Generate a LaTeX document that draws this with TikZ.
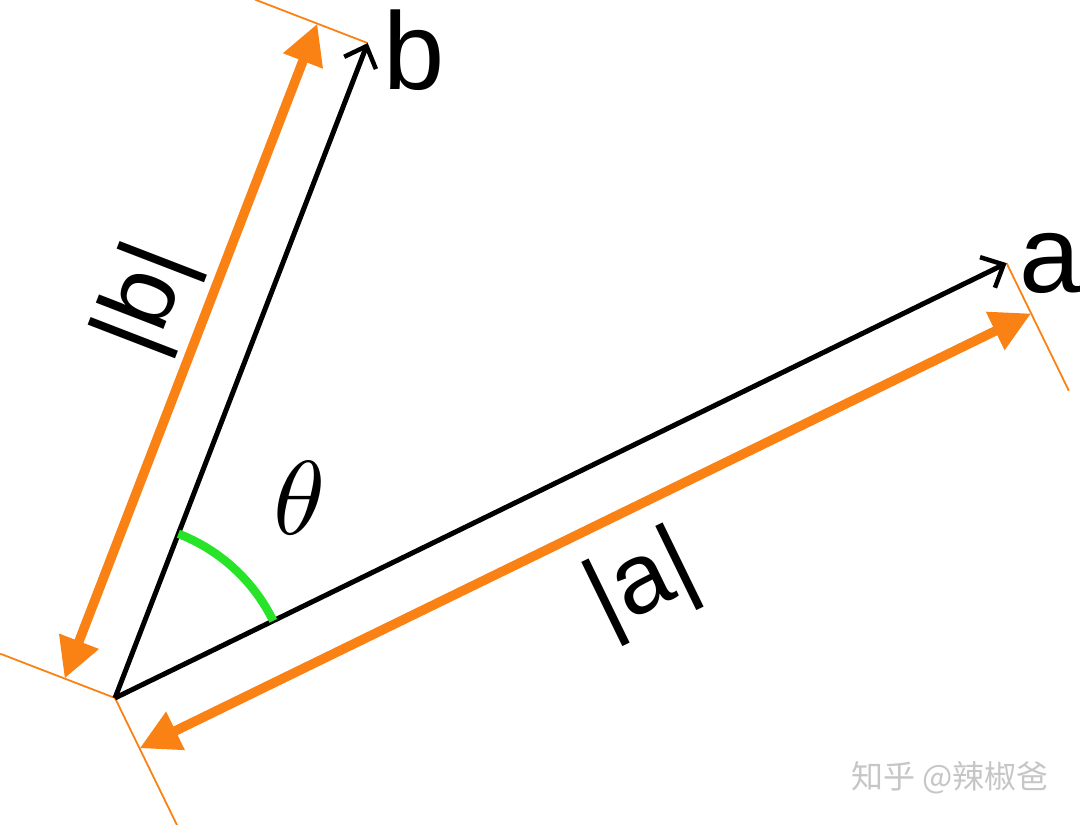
\documentclass[tikz,border=0pt]{standalone}
\usepackage{fontspec}
\setmainfont{Liberation Sans}
\newfontfamily\cjkfont{Noto Sans CJK SC}
\usetikzlibrary{calc}
\usetikzlibrary{arrows.meta}
\definecolor{lenorange}{RGB}{250,130,20}
\definecolor{anglegreen}{RGB}{40,228,40}

\begin{document}
\begin{tikzpicture}[x=1pt,y=1pt,
    vec/.style={line width=5pt, -{Straight Barb[length=18pt,width=34pt,line width=4.5pt]}},
    len/.style={line width=9.5pt, lenorange, {Triangle[length=40pt,width=40pt]}-{Triangle[length=40pt,width=40pt]}},
    ext/.style={line width=1.8pt, lenorange},
    lbl/.style={font=\fontsize{110}{110}\selectfont},
    lenlbl/.style={font=\fontsize{100}{100}\selectfont}]
            \useasboundingbox (0,0) rectangle (1080,825);

            % Draw the origin and the two vectors
            \coordinate (O) at (115,127);
            \coordinate (A) at ($(O)+(26:992)$);
            \coordinate (B) at ($(O)+(68.9:702)$);

            % Draw the thin end marks
            \draw[ext] (O) -- ++(158.9:123);
            \draw[ext] (O) -- ++(-64:142);
            \draw[ext] (B) -- ++(158.9:121);
            \draw[ext] (A) -- ++(-64:142);

            % Draw the length arrows
            \draw[len] ($(O)+(158.9:54)$) -- ($(B)+(158.9:54)$);
            \draw[len] ($(O)+(-64:56)$) -- ($(A)+(-64:56)$);

            % Draw the vectors a and b
            \draw[vec] (O) -- (A);
            \draw[vec] (O) -- (B);

            % Draw the angle
            \draw[anglegreen, line width=8.5pt] ($(O)+(26:176)$) arc[start angle=26, end angle=68.9, radius=176];
            \node[scale=10.5] (th) at (300,327) {$\theta$};

            % Draw the labels
            \node[lbl] (la) at (1050,562) {a};
            \node[lbl] (lb) at (414,775) {b};
            \node[lenlbl, rotate=26] (lalen) at (643,240) {|a|};
            \node[lenlbl, rotate=68.9] (lblen) at (148,525) {|b|};

            % Draw the mark
            \node[font=\cjkfont\fontsize{32}{32}\selectfont, text=gray!45] (mark) at (950,47) {知乎 @辣椒爸};

\end{tikzpicture}
\end{document}
